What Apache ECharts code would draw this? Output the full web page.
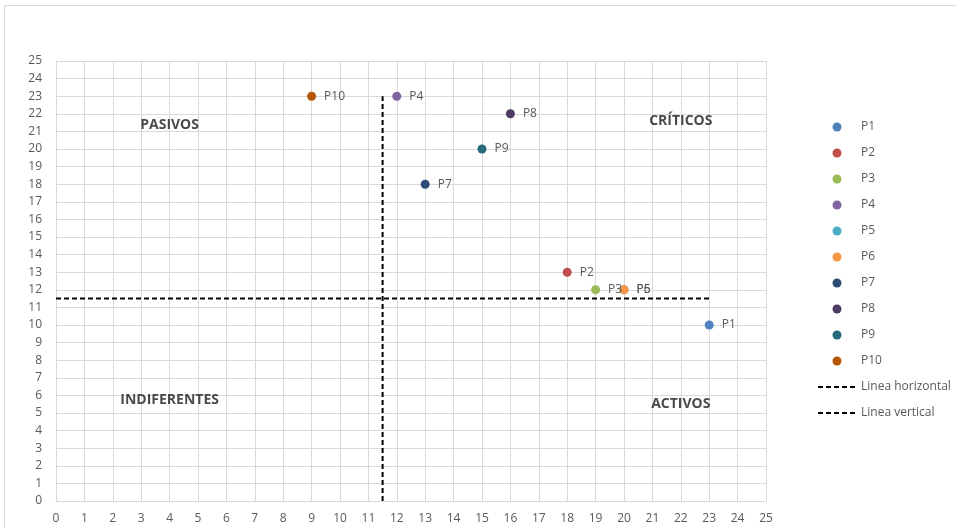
<!DOCTYPE html>
<html>
<head>
<meta charset="utf-8">
<script src="https://cdn.jsdelivr.net/npm/echarts@6/dist/echarts.min.js"></script>
<style>html,body{margin:0;padding:0;background:#fff}#c{width:956px;height:528px}</style>
</head>
<body>
<div id="c"></div>
<script>
var pointNames = ['P1','P2','P3','P4','P5','P6','P7','P8','P9','P10'];
var pointX = [23, 18, 19, 12, 20, 20, 13, 16, 15, 9];
var pointY = [10, 13, 12, 23, 12, 12, 18, 22, 20, 23];
var pointColors = ['#4F81BD','#C0504D','#9BBB59','#8064A2','#4BACC6','#F79646','#2C4D75','#4D3B62','#276A7C','#B65708'];
var horizontalLine = [[0, 11.5], [23, 11.5]];
var verticalLine = [[11.5, 0], [11.5, 23]];
var quadrantNames = ['PASIVOS', 'CRÍTICOS', 'INDIFERENTES', 'ACTIVOS'];
var quadrantPos = [[4, 21.35], [22, 21.6], [4, 5.75], [22, 5.5]];
var lineNames = ['Linea horizontal', 'Linea vertical'];

var font = 'Open Sans';
var series = [];
pointNames.forEach(function (n, i) {
  series.push({
    name: n, type: 'scatter', symbolSize: 9,
    itemStyle: { color: pointColors[i], opacity: 1 },
    data: [[pointX[i], pointY[i]]],
    label: { show: true, formatter: n, position: 'right', distance: 8, color: '#595959', fontSize: 12, fontFamily: font },
    z: 5
  });
});
series.push({
  name: lineNames[0], type: 'line', data: horizontalLine, symbol: 'none',
  lineStyle: { color: '#000', width: 2, type: [5, 3] }, itemStyle: { color: '#000' }, z: 3
});
series.push({
  name: lineNames[1], type: 'line', data: verticalLine, symbol: 'none',
  lineStyle: { color: '#000', width: 2, type: [5, 3] }, itemStyle: { color: '#000' }, z: 3
});
series.push({
  name: 'Cuadrantes', type: 'scatter', symbolSize: 1,
  itemStyle: { color: 'rgba(0,0,0,0)' },
  data: quadrantPos.map(function (p, i) { return { value: p, name: quadrantNames[i] }; }),
  label: { show: true, position: 'inside', formatter: '{b}', color: '#1a1a1a', fontSize: 14, fontWeight: 'bold', fontFamily: font },
  silent: true, z: 4
});

var chart = echarts.init(document.getElementById('c'));
chart.setOption({
  animation: false,
  textStyle: { fontFamily: font },
  graphic: [{ type: 'rect', shape: { x: 4.5, y: 5.5, width: 1000, height: 600 }, style: { fill: 'none', stroke: '#d9d9d9', lineWidth: 1 }, silent: true }],
  grid: { left: 56, right: 190, top: 61, bottom: 27 },
  xAxis: {
    type: 'value', min: 0, max: 25, interval: 1,
    axisLine: { show: true, lineStyle: { color: '#d9d9d9' } },
    axisTick: { show: false },
    axisLabel: { color: '#595959', fontSize: 12, margin: 12, fontFamily: font },
    splitLine: { show: true, lineStyle: { color: '#d9d9d9' } }
  },
  yAxis: {
    type: 'value', min: 0, max: 25, interval: 1,
    axisLine: { show: true, lineStyle: { color: '#d9d9d9' } },
    axisTick: { show: false },
    axisLabel: { color: '#595959', fontSize: 12, margin: 14, fontFamily: font },
    splitLine: { show: true, lineStyle: { color: '#d9d9d9' } }
  },
  legend: {
    orient: 'vertical', left: 812, top: 116,
    data: pointNames.concat(lineNames.map(function (n) { return { name: n, itemStyle: { opacity: 0 } }; })),
    itemWidth: 38, itemHeight: 9, itemGap: 14,
    textStyle: { color: '#595959', fontSize: 12, fontFamily: font }
  },
  series: series
});
</script>
</body>
</html>
